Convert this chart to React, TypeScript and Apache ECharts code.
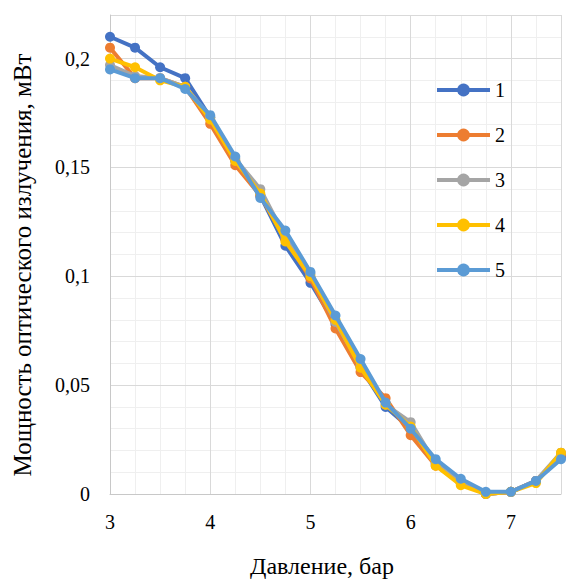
import React, { useEffect, useRef } from "react";
import * as echarts from "echarts";

const pressure = [3, 3.25, 3.5, 3.75, 4, 4.25, 4.5, 4.75, 5, 5.25, 5.5, 5.75, 6, 6.25, 6.5, 6.75, 7, 7.25, 7.5];
const seriesNames = ["1", "2", "3", "4", "5"];
const s1 = [0.210, 0.205, 0.196, 0.191, 0.173, 0.153, 0.137, 0.114, 0.097, 0.078, 0.058, 0.040, 0.030, 0.014, 0.005, 0.000, 0.001, 0.006, 0.017];
const s2 = [0.205, 0.191, 0.191, 0.187, 0.170, 0.151, 0.137, 0.117, 0.099, 0.076, 0.056, 0.044, 0.027, 0.013, 0.005, 0.000, 0.001, 0.006, 0.018];
const s3 = [0.197, 0.192, 0.191, 0.187, 0.173, 0.154, 0.140, 0.118, 0.101, 0.079, 0.059, 0.041, 0.033, 0.014, 0.005, 0.000, 0.001, 0.006, 0.019];
const s4 = [0.200, 0.196, 0.190, 0.187, 0.172, 0.153, 0.138, 0.116, 0.100, 0.080, 0.058, 0.041, 0.031, 0.013, 0.004, 0.000, 0.001, 0.005, 0.019];
const s5 = [0.195, 0.191, 0.191, 0.186, 0.174, 0.155, 0.136, 0.121, 0.102, 0.082, 0.062, 0.042, 0.030, 0.016, 0.007, 0.001, 0.001, 0.006, 0.016];
const allSeries = [s1, s2, s3, s4, s5];
const colors = ["#4472C4", "#ED7D31", "#A5A5A5", "#FFC000", "#5B9BD5"];
const xTitle = "Давление, бар";
const yTitle = "Мощность оптического излучения, мВт";

const FONT = "Liberation Serif, Times New Roman, DejaVu Serif, serif";

export default function App() {
  const ref = useRef<HTMLDivElement>(null);
  useEffect(() => {
    if (!ref.current) return;
    const chart = echarts.init(ref.current, null, { renderer: "svg" });
    const fmtY = (v: number) => {
      if (v > 0.205) return "";
      return String(Math.round(v * 100) / 100).replace(".", ",");
    };
    chart.setOption({
      animation: false,
      backgroundColor: "#ffffff",
      textStyle: { fontFamily: FONT },
      grid: { left: 110, right: 6, top: 15, bottom: 85, containLabel: false },
      xAxis: [
        {
          type: "value",
          min: 3,
          max: 7.5,
          interval: 1,
          axisLine: { show: true, lineStyle: { color: "#c8c8c8", width: 1 } },
          axisTick: { show: false },
          axisLabel: {
            margin: 18,
            fontFamily: FONT,
            fontSize: 20,
            color: "#000",
            formatter: (v: number) => (v > 7.2 ? "" : String(v)),
          },
          splitLine: { show: true, lineStyle: { color: "#d9d9d9", width: 1 } },
          z: 2,
        },
        {
          type: "value",
          min: 3,
          max: 7.5,
          interval: 0.25,
          position: "bottom",
          axisLine: { show: false },
          axisTick: { show: false },
          axisLabel: { show: false },
          splitLine: { show: true, lineStyle: { color: "#efefef", width: 1 } },
          z: 1,
        },
      ],
      yAxis: [
        {
          type: "value",
          min: 0,
          max: 0.22,
          interval: 0.05,
          axisLine: { show: true, lineStyle: { color: "#c8c8c8", width: 1 } },
          axisTick: { show: false },
          axisLabel: {
            margin: 20,
            fontFamily: FONT,
            fontSize: 20,
            color: "#000",
            formatter: fmtY,
          },
          splitLine: { show: true, lineStyle: { color: "#d9d9d9", width: 1 } },
          z: 2,
        },
        {
          type: "value",
          min: 0,
          max: 0.22,
          interval: 0.01,
          position: "left",
          axisLine: { show: false },
          axisTick: { show: false },
          axisLabel: { show: false },
          splitLine: { show: true, lineStyle: { color: "#efefef", width: 1 } },
          z: 1,
        },
      ],
      legend: {
        orient: "vertical",
        left: 430,
        top: 75,
        itemWidth: 53,
        itemHeight: 16,
        itemGap: 25,
        lineStyle: { width: 4 },
        textStyle: { fontFamily: FONT, fontSize: 20, color: "#000", lineHeight: 20 },
        data: seriesNames,
      },
      graphic: [
        {
          type: "text",
          x: 322,
          y: 566,
          style: {
            text: xTitle,
            fontFamily: FONT,
            fontSize: 24,
            fill: "#000",
            textAlign: "center",
            textVerticalAlign: "middle",
          },
        },
        {
          type: "text",
          x: 22,
          y: 265,
          rotation: Math.PI / 2,
          style: {
            text: yTitle,
            fontFamily: FONT,
            fontSize: 25,
            fill: "#000",
            textAlign: "center",
            textVerticalAlign: "middle",
          },
        },
      ],
      series: allSeries.map((vals, i) => ({
        name: seriesNames[i],
        type: "line",
        xAxisIndex: 0,
        yAxisIndex: 0,
        data: pressure.map((p, j) => [p, vals[j]]),
        symbol: "circle",
        symbolSize: 10,
        lineStyle: { width: 4, color: colors[i] },
        itemStyle: { color: colors[i] },
        color: colors[i],
        clip: false,
        z: 3 + i,
      })),
    });
    return () => chart.dispose();
  }, []);
  return <div ref={ref} style={{ width: 567, height: 579, position: "absolute", left: 0, top: 0 }} />;
}
